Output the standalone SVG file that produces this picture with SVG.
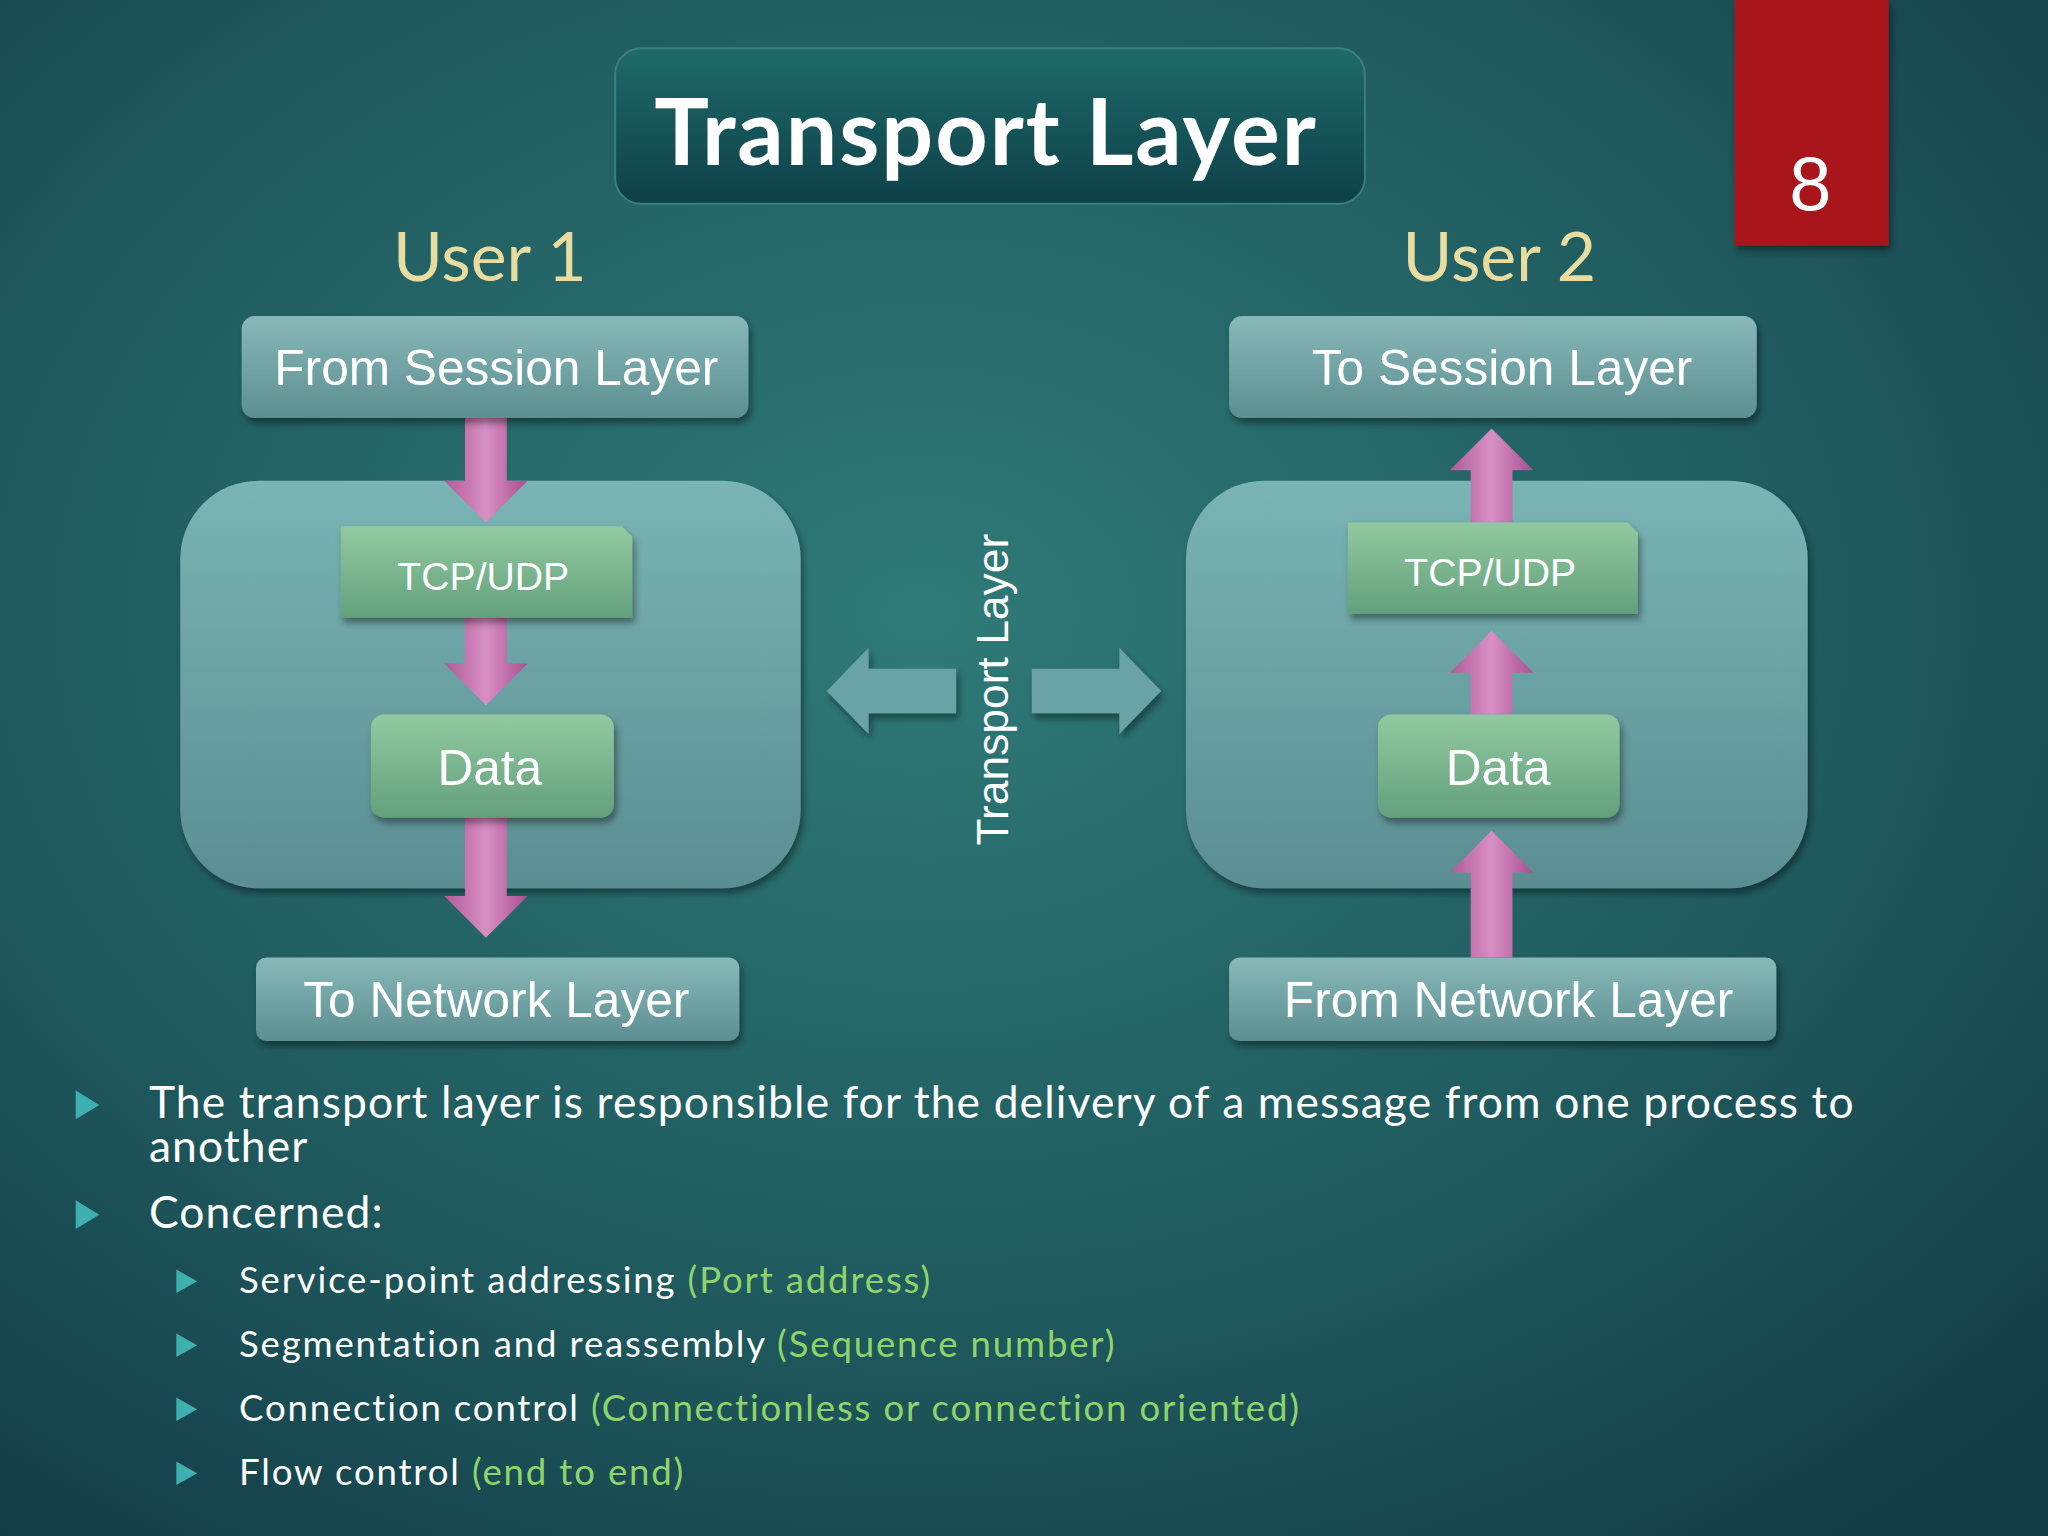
<svg xmlns="http://www.w3.org/2000/svg" width="2048" height="1536" viewBox="0 0 2048 1536">
<defs>
<radialGradient id="bg" cx="0.45" cy="0.4" r="0.75">
<stop offset="0" stop-color="#2f7a78"/><stop offset="0.6" stop-color="#1f5a5e"/><stop offset="1" stop-color="#143c48"/>
</radialGradient>
<linearGradient id="title" x1="0" y1="0" x2="0" y2="1"><stop offset="0" stop-color="#1e6a6a"/><stop offset="1" stop-color="#0e4048"/></linearGradient>
<linearGradient id="lay" x1="0" y1="0" x2="0" y2="1"><stop offset="0" stop-color="#88b8b8"/><stop offset="1" stop-color="#5c8f92"/></linearGradient>
<linearGradient id="big" x1="0" y1="0" x2="0" y2="1"><stop offset="0" stop-color="#7ab4b4"/><stop offset="1" stop-color="#5a8e92"/></linearGradient>
<linearGradient id="grn" x1="0" y1="0" x2="0" y2="1"><stop offset="0" stop-color="#92c9a0"/><stop offset="1" stop-color="#62a07c"/></linearGradient>
<linearGradient id="pink" x1="0" y1="0" x2="1" y2="0"><stop offset="0" stop-color="#b05a98"/><stop offset="0.5" stop-color="#d890c4"/><stop offset="1" stop-color="#a85090"/></linearGradient>
<filter id="sh" x="-10%" y="-10%" width="130%" height="140%"><feDropShadow dx="2" dy="4" stdDeviation="3" flood-color="#000" flood-opacity="0.4"/></filter>
</defs>
<style>
.t{font-family:"Liberation Sans",Arial,sans-serif;fill:#fff;text-anchor:middle}
.b{font-family:Lato,"Liberation Sans",sans-serif;fill:#fff}
.m{letter-spacing:0.85px}
.s{letter-spacing:1.4px}
.g{fill:#8fd46a}
.tri{fill:#3fb0b0}
</style>
<rect width="2048" height="1536" fill="url(#bg)"/>
<g transform="scale(1.30612)">
<g id="title"><rect x="471" y="37" width="574" height="119" rx="20" fill="url(#title)" stroke="#3a8080" stroke-width="1.5"/>
<text x="755" y="126" font-family="Lato,sans-serif" font-weight="bold" font-size="70" letter-spacing="1.5" fill="#fff" text-anchor="middle">Transport Layer</text></g>
<g id="page"><rect x="1328" y="0" width="118" height="188" fill="#a8161a" filter="url(#sh)"/>
<text x="1386" y="161" class="t" font-size="58">8</text></g>
<text x="375" y="215" font-family="Lato,sans-serif" font-size="52" fill="#e8dca0" text-anchor="middle">User 1</text>
<text x="1148" y="215" font-family="Lato,sans-serif" font-size="52" fill="#e8dca0" text-anchor="middle">User 2</text>
<g id="big1"><rect x="138" y="368" width="475" height="312" rx="60" fill="url(#big)" filter="url(#sh)"/></g>
<g id="big2"><rect x="908" y="368" width="476" height="312" rx="60" fill="url(#big)" filter="url(#sh)"/></g>
<g id="connectors">
<path d="M356 320H388V368H404L372 400L340 368H356Z" fill="url(#pink)"/>
<path d="M356 473H388V508H404L372 540L340 508H356Z" fill="url(#pink)"/>
<path d="M356 626H388V686H404L372 718L340 686H356Z" fill="url(#pink)"/>
<path d="M1126 400H1158V360H1174L1142 328L1110 360H1126Z" fill="url(#pink)"/>
<path d="M1126 547H1158V515H1174L1142 483L1110 515H1126Z" fill="url(#pink)"/>
<path d="M1126 733H1158V668H1174L1142 636L1110 668H1126Z" fill="url(#pink)"/>
<path d="M732 512V546H665V562L633 529L665 496V512Z" fill="#6aa3a5" filter="url(#sh)"/>
<path d="M790 512V546H857V562L889 529L857 496V512Z" fill="#6aa3a5" filter="url(#sh)"/>
</g>
<g id="fromSession"><rect x="185" y="242" width="388" height="78" rx="10" fill="url(#lay)" filter="url(#sh)"/><text x="380" y="295" class="t" font-size="38">From Session Layer</text></g>
<g id="toSession"><rect x="941" y="242" width="404" height="78" rx="10" fill="url(#lay)" filter="url(#sh)"/><text x="1150" y="295" class="t" font-size="38">To Session Layer</text></g>
<g id="tcp1"><path d="M261 403H476L484 411V473H261Z" fill="url(#grn)" filter="url(#sh)"/><text x="370" y="452" class="t" font-size="30">TCP/UDP</text></g>
<g id="tcp2"><path d="M1032 400H1246L1254 408V470H1032Z" fill="url(#grn)" filter="url(#sh)"/><text x="1141" y="449" class="t" font-size="30">TCP/UDP</text></g>
<g id="data1"><rect x="284" y="547" width="186" height="79" rx="10" fill="url(#grn)" filter="url(#sh)"/><text x="375" y="601" class="t" font-size="38">Data</text></g>
<g id="data2"><rect x="1055" y="547" width="185" height="79" rx="10" fill="url(#grn)" filter="url(#sh)"/><text x="1147" y="601" class="t" font-size="38">Data</text></g>
<g id="toNetwork"><rect x="196" y="733" width="370" height="64" rx="8" fill="url(#lay)" filter="url(#sh)"/><text x="380" y="779" class="t" font-size="38">To Network Layer</text></g>
<g id="fromNetwork"><rect x="941" y="733" width="419" height="64" rx="8" fill="url(#lay)" filter="url(#sh)"/><text x="1155" y="779" class="t" font-size="38">From Network Layer</text></g>
<text transform="translate(772 528) rotate(-90)" class="t" font-size="34">Transport Layer</text>
<g id="bullets">
<path d="M58 835L76 846L58 857Z" class="tri"/>
<text x="114" y="856" class="b m" font-size="34">The transport layer is responsible for the delivery of a message from one process to</text>
<text x="114" y="890" class="b m" font-size="34">another</text>
<path d="M58 919L76 930L58 941Z" class="tri"/>
<text x="114" y="940" class="b m" font-size="34">Concerned:</text>
<path d="M135 972L151 981L135 990Z" class="tri"/>
<text x="183" y="990" class="b s" font-size="28">Service-point addressing <tspan class="g">(Port address)</tspan></text>
<path d="M135 1021L151 1030L135 1039Z" class="tri"/>
<text x="183" y="1039" class="b s" font-size="28">Segmentation and reassembly <tspan class="g">(Sequence number)</tspan></text>
<path d="M135 1070L151 1079L135 1088Z" class="tri"/>
<text x="183" y="1088" class="b s" font-size="28">Connection control <tspan class="g">(Connectionless or connection oriented)</tspan></text>
<path d="M135 1119L151 1128L135 1137Z" class="tri"/>
<text x="183" y="1137" class="b s" font-size="28">Flow control <tspan class="g">(end to end)</tspan></text>
</g>
</g>
</svg>
